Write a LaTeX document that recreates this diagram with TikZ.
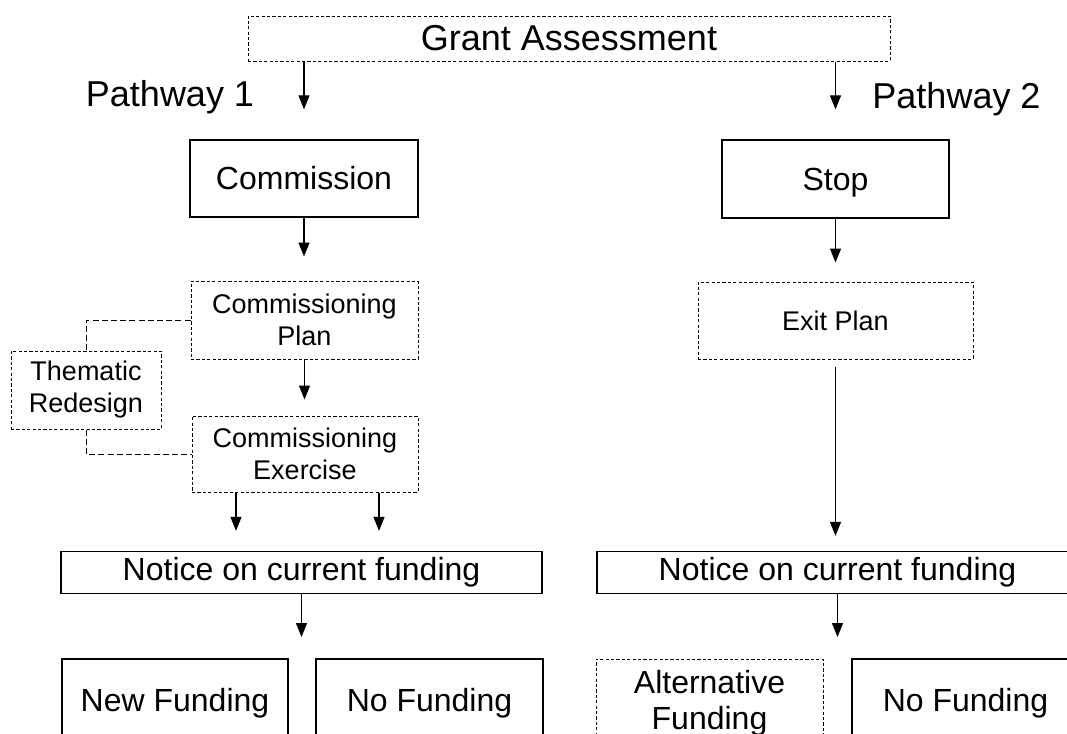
\documentclass[tikz,border=0pt]{standalone}
\usepackage{fontspec}
\setmainfont{Liberation Sans}
\usetikzlibrary{arrows.meta}

\begin{document}
\begin{tikzpicture}[x=0.5pt,y=-0.5pt]

\tikzset{box/.style = {shape=rectangle,draw,line width=0.65pt,inner sep=0pt,align=center,font=\fontsize{16}{18}\selectfont}}
\tikzset{dbox/.style = {box,line width=0.5pt,dash pattern=on 1.6pt off 1.1pt}}
\tikzset{small/.style = {font=\fontsize{13.5}{16}\selectfont}}
\tikzset{heading/.style = {font=\fontsize{18}{20}\selectfont,inner sep=0pt}}
\tikzset{edge/.style = {-{Triangle[width=5.5pt,length=7pt]},line width=0.6pt}}
\tikzset{link/.style = {line width=0.5pt,dash pattern=on 3pt off 1.6pt}}

\useasboundingbox (0,0) rectangle (1067,734);
\clip (0,0) rectangle (1067,734);

%top
\node[dbox, heading, minimum width=321pt, minimum height=22.5pt] (ga) at (569,38.5) {Grant Assessment};
\node[heading, anchor=base] (p1) at (170,106) {Pathway 1};
\node[heading, anchor=base] (p2) at (956.5,108) {Pathway 2};

%pathway 1
\node[box, minimum width=114pt, minimum height=38.5pt] (comm) at (304,178.5) {Commission};
\node[dbox, small, minimum width=113.5pt, minimum height=39pt] (cplan) at (304.5,320) {Commissioning\\Plan};
\node[dbox, small, minimum width=113pt, minimum height=38pt] (cex) at (305,454) {Commissioning\\Exercise};
\node[dbox, small, minimum width=75pt, minimum height=39pt] (thematic) at (86,390) {Thematic\\Redesign};
\node[box, minimum width=240.5pt, minimum height=21pt] (notice1) at (301.5,572.5) {Notice on current funding};
\node[box, minimum width=113pt, minimum height=44pt] (newfund) at (175,703) {New Funding};
\node[box, minimum width=113.5pt, minimum height=44pt] (nofund1) at (429.5,703) {No Funding};
\coordinate (split1) at (301.5,637);

%pathway 2
\node[box, text depth=0pt, minimum width=113.5pt, minimum height=39pt] (stop) at (835.5,179) {Stop};
\node[dbox, small, minimum width=137.5pt, minimum height=38.5pt] (exit) at (835.5,320.5) {Exit Plan};
\node[box, minimum width=240.5pt, minimum height=21pt] (notice2) at (837.5,572.5) {Notice on current funding};
\node[dbox, minimum width=113.5pt, minimum height=44pt] (altfund) at (709.5,703) {Alternative\\Funding};
\node[box, minimum width=113.5pt, minimum height=44pt] (nofund2) at (965.5,703) {No Funding};
\coordinate (split2) at (837.5,637);

%edges
\draw[edge, shorten >=15pt] (ga.south -| comm.north) -- (comm.north);
\draw[edge, shorten >=15pt] (ga.south -| stop.north) -- (stop.north);
\draw[edge, shorten >=12pt] (comm.south) -- (comm.south |- cplan.north);
\draw[edge, shorten >=8pt] (cplan.south) -- (cplan.south |- cex.north);
\draw[edge, shorten >=10pt] ([xshift=-34.5pt]cex.south) -- ([xshift=-34.5pt]cex.south |- notice1.north);
\draw[edge, shorten >=10pt] ([xshift=37pt]cex.south) -- ([xshift=37pt]cex.south |- notice1.north);
\draw[edge] (notice1.south) -- (split1);
\draw[edge, shorten >=9.5pt] (stop.south) -- (exit.north);
\draw[edge, shorten <=3.5pt, shorten >=7.5pt] (exit.south) -- (exit.south |- notice2.north);
\draw[edge] (notice2.south) -- (split2);

%thematic links
\draw[link] (cplan.west) -| (thematic.north);
\draw[link] (thematic.south) |- (cex.west);

\end{tikzpicture}
\end{document}
